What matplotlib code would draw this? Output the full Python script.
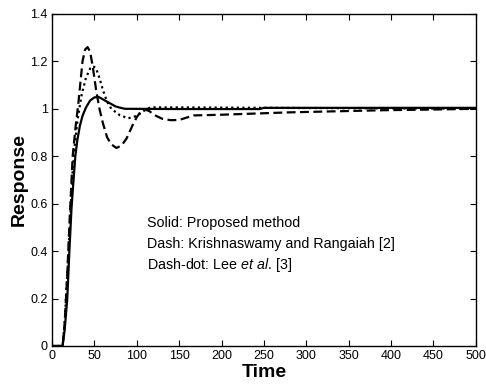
import matplotlib
matplotlib.use("Agg")
import matplotlib.pyplot as plt

# ----------------------------
# Data
# ----------------------------
solid_t = [0, 12.5, 15, 18, 20.5, 23, 25, 27.5, 30, 33, 36, 40, 45, 50, 55,
           60, 65, 70, 75, 80, 86, 150, 245, 250, 500]
solid_y = [0, 0, 0.07, 0.2, 0.4, 0.58, 0.68, 0.8, 0.87, 0.93, 0.97, 1.005,
           1.035, 1.048, 1.05, 1.04, 1.03, 1.02, 1.01, 1.005, 1.0, 0.999,
           0.999, 1.004, 1.004]

dash_t = [0, 12.5, 15, 18, 21, 24.4, 28, 31, 36, 39, 42, 45, 48, 52, 56, 60,
          65, 70, 76, 82, 88, 95, 100, 105, 110, 115, 120, 130, 140, 150,
          167, 200, 280, 390, 450, 500]
dash_y = [0, 0, 0.1, 0.3, 0.55, 0.8, 0.93, 1.02, 1.2, 1.25, 1.26, 1.24, 1.18,
          1.08, 1.0, 0.94, 0.88, 0.85, 0.835, 0.845, 0.875, 0.93, 0.965,
          0.99, 0.997, 0.99, 0.975, 0.958, 0.952, 0.953, 0.972, 0.975,
          0.985, 0.994, 0.997, 1.0]

dot_t = [0, 12.5, 15, 18, 21, 24, 27, 30, 35, 40, 45, 48.5, 52, 56, 60, 65,
         70, 80, 90, 100, 110, 116, 140, 500]
dot_y = [0, 0, 0.1, 0.3, 0.5, 0.72, 0.85, 0.95, 1.06, 1.13, 1.17, 1.18, 1.17,
         1.13, 1.08, 1.03, 1.0, 0.973, 0.96, 0.97, 0.995, 1.006, 1.006, 1.0]

x_ticks = [0, 50, 100, 150, 200, 250, 300, 350, 400, 450, 500]
y_ticks = [0, 0.2, 0.4, 0.6, 0.8, 1.0, 1.2, 1.4]
y_labels = ["0", "0.2", "0.4", "0.6", "0.8", "1", "1.2", "1.4"]

# ----------------------------
# Plot
# ----------------------------
plt.rcParams["font.family"] = ["Liberation Sans", "DejaVu Sans"]
plt.rcParams["mathtext.fontset"] = "custom"
plt.rcParams["mathtext.rm"] = "Liberation Sans"
plt.rcParams["mathtext.it"] = "Liberation Sans:italic"

fig = plt.figure(figsize=(4.86, 3.87), dpi=100)
ax = fig.add_axes([0.107, 0.106, 0.872, 0.858])

ax.plot(dot_t, dot_y, color="black", linestyle=(0, (1, 1.5)), linewidth=1.6)
ax.plot(dash_t, dash_y, color="black", linestyle=(0, (4, 2)), linewidth=1.6)
ax.plot(solid_t, solid_y, color="black", linestyle="-", linewidth=1.6)

ax.set_xlim(0, 500)
ax.set_ylim(0, 1.4)
ax.set_xticks(x_ticks)
ax.set_yticks(y_ticks)
ax.set_yticklabels(y_labels)
ax.tick_params(direction="in", top=True, right=True, length=4,
               labelsize=9, colors="black", pad=3)
for s in ax.spines.values():
    s.set_linewidth(1.0)

ax.set_xlabel("Time", fontsize=14, fontweight="bold", labelpad=1)
ax.set_ylabel("Response", fontsize=14, fontweight="bold", labelpad=2)

ax.text(112, 0.503, "Solid: Proposed method", fontsize=10.3)
ax.text(112, 0.411, "Dash: Krishnaswamy and Rangaiah [2]", fontsize=10.3)
ax.text(112, 0.323, "Dash-dot: Lee $\\it{et\\ al}$. [3]", fontsize=10.3)

fig.savefig("out.png", dpi=100)
